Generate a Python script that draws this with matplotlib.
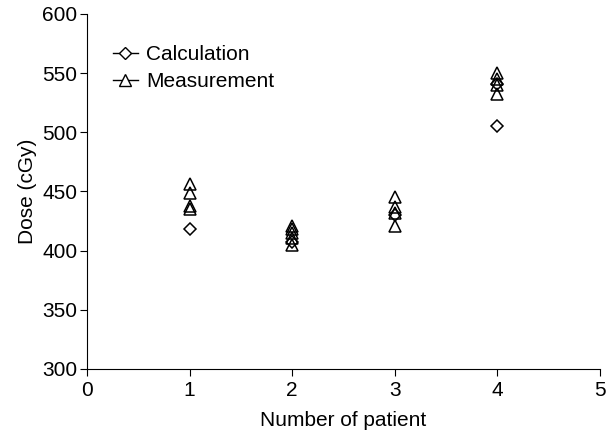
import matplotlib
matplotlib.use('Agg')
import matplotlib.pyplot as plt
from matplotlib.lines import Line2D

plt.rcParams['font.family'] = ['Liberation Sans', 'DejaVu Sans']

# measured doses per patient
meas_patient = [1, 1, 1, 1, 2, 2, 2, 2, 2, 3, 3, 3, 3, 4, 4, 4, 4]
meas_dose = [456, 449, 438, 435, 421, 418, 415, 411, 405, 445, 437, 432, 421, 550, 545, 540, 532]

# calculated doses per patient
calc_patient = [1, 2, 3, 4, 4]
calc_dose = [418, 407, 430, 505, 541]

fig = plt.figure(figsize=(6.08, 4.36), dpi=100)
ax = fig.add_axes([0.143, 0.154, 0.844, 0.814])

ax.plot(calc_patient, calc_dose, linestyle='none', marker='D', markersize=6,
        markerfacecolor='white', markeredgecolor='black', markeredgewidth=1.1,
        label='Calculation')
ax.plot(meas_patient, meas_dose, linestyle='none', marker='^', markersize=8,
        markerfacecolor='none', markeredgecolor='black', markeredgewidth=1.1,
        label='Measurement')

ax.set_xlim(0, 5)
ax.set_ylim(300, 600)
ax.set_xticks(range(0, 6))
ax.set_yticks(range(300, 601, 50))
ax.spines['top'].set_visible(False)
ax.spines['right'].set_visible(False)
ax.tick_params(direction='out', length=5, labelsize=15)
ax.tick_params(axis='y', pad=2)
ax.set_xlabel('Number of patient', fontsize=15, labelpad=8)
ax.set_ylabel('Dose (cGy)', fontsize=15)

handles = [
    Line2D([0], [0], color='black', lw=1, marker='D', markersize=6,
           markerfacecolor='white', markeredgecolor='black'),
    Line2D([0], [0], color='black', lw=1, marker='^', markersize=8,
           markerfacecolor='white', markeredgecolor='black'),
]
ax.legend(handles, ['Calculation', 'Measurement'], loc='upper left',
          frameon=False, fontsize=15, handlelength=1.2, handletextpad=0.4,
          labelspacing=0.4, bbox_to_anchor=(0.014, 0.965))

fig.savefig('out.png', dpi=100)
